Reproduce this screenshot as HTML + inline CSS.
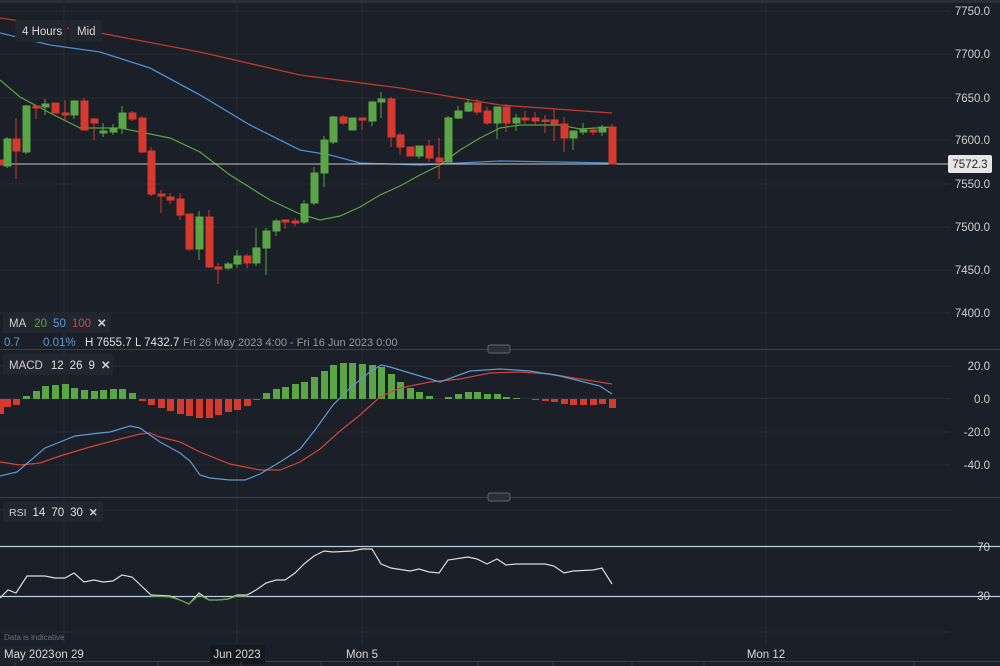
<!DOCTYPE html>
<html><head><meta charset="utf-8"><style>
html,body{margin:0;padding:0;background:#1b1f27;}
svg{display:block;font-family:"Liberation Sans",sans-serif;}
</style></head><body>
<svg width="1000" height="666" viewBox="0 0 1000 666" xmlns="http://www.w3.org/2000/svg">
<rect width="1000" height="666" fill="#1b1f27"/>
<rect x="0" y="0" width="1000" height="3" fill="#2a2f38"/>
<!-- grid -->
<g stroke="#272c35" stroke-width="1">
<line x1="0" y1="11" x2="950" y2="11"/><line x1="0" y1="54" x2="950" y2="54"/><line x1="0" y1="98" x2="950" y2="98"/><line x1="0" y1="140" x2="950" y2="140"/><line x1="0" y1="184" x2="950" y2="184"/><line x1="0" y1="227" x2="950" y2="227"/><line x1="0" y1="270" x2="950" y2="270"/><line x1="0" y1="313" x2="950" y2="313"/>
<line x1="0" y1="366" x2="950" y2="366"/><line x1="0" y1="398.5" x2="950" y2="398.5"/><line x1="0" y1="432" x2="950" y2="432"/><line x1="0" y1="465" x2="950" y2="465"/>
<line x1="0" y1="510" x2="950" y2="510"/><line x1="0" y1="632" x2="950" y2="632"/>
<line x1="64" y1="0" x2="64" y2="645"/><line x1="237" y1="0" x2="237" y2="645"/><line x1="362" y1="0" x2="362" y2="645"/><line x1="766" y1="0" x2="766" y2="645"/>
</g>
<g stroke="#3a3f48" stroke-width="1">
<line x1="0" y1="349.5" x2="1000" y2="349.5"/><line x1="0" y1="497.5" x2="1000" y2="497.5"/><line x1="0" y1="661.5" x2="1000" y2="661.5"/>
</g>
<rect x="488" y="345" width="22" height="8" rx="2" fill="#2a2f38" stroke="#666" stroke-width="1"/>
<rect x="488" y="493" width="22" height="8" rx="2" fill="#2a2f38" stroke="#666" stroke-width="1"/>
<!-- MAs -->
<polyline fill="none" stroke="#c0392b" stroke-width="1.3" points="0,18 100,33 200,52 300,75 400,88 500,105 612,113"/>
<polyline fill="none" stroke="#4a8fd6" stroke-width="1.3" points="0,33 50,45 100,52 150,68 200,95 250,125 300,150 330,155 360,163 420,165 500,161 612,163"/>
<polyline fill="none" stroke="#5aa545" stroke-width="1.2" points="0,80 20,97 50,113 80,128 120,128 170,138 200,152 230,175 270,200 300,214 320,220 340,216 360,207 380,195 400,186 420,175 440,165 460,150 480,138 500,128 520,125 560,125 580,129 612,127"/>
<line x1="0" y1="164" x2="950" y2="164" stroke="#c8c8c8" stroke-width="1"/>
<!-- candles -->
<g stroke-width="1">
<g stroke="#d63a2e" fill="#d63a2e">
<rect x="-3" y="160" width="6" height="5"/>
<line x1="16" y1="118" x2="16" y2="179"/><rect x="13" y="139" width="7" height="12"/>
<line x1="36" y1="106" x2="36" y2="119"/><rect x="33" y="106" width="7" height="2"/>
<rect x="52" y="103" width="7" height="10"/>
<line x1="65" y1="100" x2="65" y2="121"/><rect x="62" y="113" width="7" height="2"/>
<line x1="84" y1="98" x2="84" y2="130"/><rect x="81" y="101" width="7" height="29"/>
<line x1="94" y1="118" x2="94" y2="140"/><rect x="91" y="119" width="7" height="4"/>
<line x1="132" y1="111" x2="132" y2="121"/><rect x="129" y="113" width="7" height="6"/>
<line x1="142" y1="116" x2="142" y2="153"/><rect x="139" y="118" width="7" height="34"/>
<line x1="151" y1="147" x2="151" y2="196"/><rect x="148" y="151" width="7" height="43"/>
<line x1="161" y1="190" x2="161" y2="213"/><rect x="158" y="194" width="7" height="2"/>
<line x1="170" y1="193" x2="170" y2="204"/><rect x="167" y="197" width="7" height="3"/>
<line x1="180" y1="193" x2="180" y2="220"/><rect x="177" y="199" width="7" height="16"/>
<line x1="189" y1="214" x2="189" y2="251"/><rect x="186" y="214" width="7" height="35"/>
<line x1="209" y1="210" x2="209" y2="268"/><rect x="206" y="217" width="7" height="50"/>
<line x1="218" y1="263" x2="218" y2="284"/><rect x="215" y="267" width="7" height="2"/>
<line x1="247" y1="254" x2="247" y2="268"/><rect x="244" y="256" width="7" height="7"/>
<line x1="285" y1="219" x2="285" y2="229"/><rect x="282" y="220" width="7" height="2"/>
<line x1="295" y1="218" x2="295" y2="226"/><rect x="292" y="221" width="7" height="2"/>
<line x1="343" y1="115" x2="343" y2="125"/><rect x="340" y="117" width="7" height="6"/>
<line x1="362" y1="118" x2="362" y2="130"/><rect x="359" y="118" width="7" height="2"/>
<line x1="391" y1="97" x2="391" y2="147"/><rect x="388" y="99" width="7" height="38"/>
<line x1="400" y1="133" x2="400" y2="155"/><rect x="397" y="135" width="7" height="12"/>
<rect x="407" y="147" width="7" height="9"/>
<line x1="429" y1="140" x2="429" y2="162"/><rect x="426" y="146" width="7" height="12"/>
<line x1="439" y1="138" x2="439" y2="179"/><rect x="436" y="158" width="7" height="4"/>
<line x1="477" y1="99" x2="477" y2="115"/><rect x="474" y="103" width="7" height="9"/>
<line x1="487" y1="107" x2="487" y2="125"/><rect x="484" y="111" width="7" height="12"/>
<line x1="506" y1="104" x2="506" y2="132"/><rect x="503" y="107" width="7" height="16"/>
<line x1="525" y1="111" x2="525" y2="124"/><rect x="522" y="118" width="7" height="2"/>
<line x1="535" y1="112" x2="535" y2="126"/><rect x="532" y="118" width="7" height="3"/>
<line x1="545" y1="115" x2="545" y2="133"/><rect x="542" y="120" width="7" height="1.5"/>
<line x1="554" y1="108" x2="554" y2="141"/><rect x="551" y="120" width="7" height="4"/>
<line x1="564" y1="117" x2="564" y2="152"/><rect x="561" y="124" width="7" height="14"/>
<line x1="593" y1="127" x2="593" y2="135"/><rect x="590" y="130" width="7" height="2"/>
<line x1="612" y1="124" x2="612" y2="164"/><rect x="609" y="127" width="7" height="37"/>
</g>
<g stroke="#5aa545" fill="#5aa545">
<line x1="7" y1="137" x2="7" y2="168"/><rect x="4" y="139" width="7" height="27"/>
<line x1="26" y1="105" x2="26" y2="154"/><rect x="23" y="106" width="7" height="46"/>
<line x1="45" y1="99" x2="45" y2="115"/><rect x="42" y="104" width="7" height="3"/>
<line x1="74" y1="100" x2="74" y2="119"/><rect x="71" y="101" width="7" height="14"/>
<line x1="103" y1="123" x2="103" y2="137"/><rect x="100" y="131" width="7" height="2"/>
<line x1="113" y1="124" x2="113" y2="135"/><rect x="110" y="128" width="7" height="4"/>
<line x1="122" y1="106" x2="122" y2="134"/><rect x="119" y="113" width="7" height="15"/>
<line x1="199" y1="211" x2="199" y2="260"/><rect x="196" y="217" width="7" height="32"/>
<line x1="228" y1="262" x2="228" y2="270"/><rect x="225" y="264" width="7" height="4"/>
<line x1="237" y1="250" x2="237" y2="268"/><rect x="234" y="256" width="7" height="8"/>
<line x1="256" y1="228" x2="256" y2="266"/><rect x="253" y="248" width="7" height="15"/>
<line x1="266" y1="228" x2="266" y2="275"/><rect x="263" y="231" width="7" height="17"/>
<line x1="276" y1="219" x2="276" y2="236"/><rect x="273" y="221" width="7" height="10"/>
<line x1="304" y1="200" x2="304" y2="224"/><rect x="301" y="204" width="7" height="18"/>
<line x1="314" y1="167" x2="314" y2="205"/><rect x="311" y="173" width="7" height="30"/>
<line x1="324" y1="136" x2="324" y2="187"/><rect x="321" y="140" width="7" height="33"/>
<line x1="333" y1="116" x2="333" y2="144"/><rect x="330" y="117" width="7" height="25"/>
<rect x="349" y="118" width="7" height="12"/>
<line x1="372" y1="101" x2="372" y2="126"/><rect x="369" y="102" width="7" height="19"/>
<line x1="381" y1="92" x2="381" y2="118"/><rect x="378" y="99" width="7" height="3"/>
<line x1="419" y1="146" x2="419" y2="159"/><rect x="416" y="146" width="7" height="10"/>
<line x1="448" y1="116" x2="448" y2="164"/><rect x="445" y="118" width="7" height="44"/>
<line x1="458" y1="106" x2="458" y2="119"/><rect x="455" y="111" width="7" height="7"/>
<line x1="468" y1="99" x2="468" y2="112"/><rect x="465" y="103" width="7" height="8"/>
<line x1="497" y1="107" x2="497" y2="139"/><rect x="494" y="107" width="7" height="16"/>
<line x1="516" y1="114" x2="516" y2="131"/><rect x="513" y="118" width="7" height="5"/>
<line x1="573" y1="131" x2="573" y2="150"/><rect x="570" y="131" width="7" height="7"/>
<line x1="583" y1="123" x2="583" y2="135"/><rect x="580" y="130" width="7" height="2"/>
<line x1="602" y1="125" x2="602" y2="136"/><rect x="599" y="127" width="7" height="5"/>
</g>
</g>
<!-- MACD histogram -->
<g fill="#d63a2e">
<rect x="-3" y="399" width="7" height="15"/><rect x="4" y="399" width="7" height="8"/><rect x="13" y="399" width="7" height="6"/>
<rect x="139" y="399" width="7" height="2"/><rect x="148" y="399" width="7" height="6"/><rect x="158" y="399" width="7" height="9"/><rect x="167" y="399" width="7" height="12"/><rect x="177" y="399" width="7" height="15"/><rect x="186" y="399" width="7" height="17"/><rect x="196" y="399" width="7" height="19"/><rect x="206" y="399" width="7" height="19"/><rect x="215" y="399" width="7" height="16"/><rect x="225" y="399" width="7" height="13"/><rect x="234" y="399" width="7" height="11"/><rect x="244" y="399" width="7" height="7"/><rect x="253" y="399" width="7" height="1"/>
<rect x="532" y="399" width="7" height="1"/><rect x="542" y="399" width="7" height="2"/><rect x="551" y="399" width="7" height="3"/><rect x="561" y="399" width="7" height="5"/><rect x="570" y="399" width="7" height="6"/><rect x="580" y="399" width="7" height="6"/><rect x="590" y="399" width="7" height="6"/><rect x="599" y="399" width="7" height="5"/><rect x="609" y="399" width="7" height="9"/>
</g>
<g fill="#5aa545">
<rect x="23" y="396" width="7" height="3"/><rect x="33" y="391" width="7" height="8"/><rect x="42" y="386" width="7" height="13"/><rect x="52" y="385" width="7" height="14"/><rect x="62" y="384" width="7" height="15"/><rect x="71" y="388" width="7" height="11"/><rect x="81" y="390" width="7" height="9"/><rect x="91" y="391" width="7" height="8"/><rect x="100" y="390" width="7" height="9"/><rect x="110" y="389" width="7" height="10"/><rect x="119" y="389" width="7" height="10"/><rect x="129" y="393" width="7" height="6"/>
<rect x="263" y="393" width="7" height="6"/><rect x="273" y="389" width="7" height="10"/><rect x="282" y="387" width="7" height="12"/><rect x="292" y="384" width="7" height="15"/><rect x="301" y="382" width="7" height="17"/><rect x="311" y="377" width="7" height="22"/><rect x="321" y="371" width="7" height="28"/><rect x="330" y="365" width="7" height="34"/><rect x="340" y="363" width="7" height="36"/><rect x="349" y="363" width="7" height="36"/><rect x="359" y="364" width="7" height="35"/><rect x="369" y="365" width="7" height="34"/><rect x="378" y="367" width="7" height="32"/><rect x="388" y="374" width="7" height="25"/><rect x="397" y="382" width="7" height="17"/><rect x="407" y="388" width="7" height="11"/><rect x="416" y="392" width="7" height="7"/><rect x="426" y="396" width="7" height="3"/>
<rect x="445" y="397" width="7" height="2"/><rect x="455" y="394" width="7" height="5"/><rect x="465" y="392" width="7" height="7"/><rect x="474" y="392" width="7" height="7"/><rect x="484" y="394" width="7" height="5"/><rect x="494" y="394" width="7" height="5"/><rect x="503" y="397" width="7" height="2"/><rect x="513" y="398" width="7" height="1"/>
</g>
<polyline fill="none" stroke="#d0453a" stroke-width="1.2" points="0,462 20,465 40,463 60,456 90,447 120,439 140,434 150,433 160,437 180,442 200,452 230,464 260,470 280,470 300,462 320,449 340,431 360,415 380,397 400,388 430,382 460,379 490,373 520,372 550,374 580,379 612,384"/>
<polyline fill="none" stroke="#5b9bd5" stroke-width="1.2" points="0,476 17,472 45,448 65,440 75,436 100,433 110,432 130,426 140,428 160,442 180,453 190,461 200,475 210,478 230,480 245,480 260,474 280,462 300,449 315,430 333,405 350,388 370,372 381,365 390,367 410,373 440,382 470,371 500,369 530,371 560,376 580,381 600,386 612,394"/>
<!-- RSI -->
<line x1="0" y1="546.5" x2="1000" y2="546.5" stroke="#b8cde0" stroke-width="1.2"/>
<line x1="0" y1="596.5" x2="1000" y2="596.5" stroke="#b8cde0" stroke-width="1.2"/>
<polyline fill="none" stroke="#dcdcdc" stroke-width="1.2" points="0,598 8,590 16,593 27,576 45,576 55,578 65,578 74,573 84,582 94,580 103,582 113,581 122,575 132,577 151,595 170,596 180,600 189,604 199,593 209,600 218,600 228,599 237,595 247,595 256,590 266,583 276,580 285,580 295,573 304,564 314,556 324,551 333,552 352,551 362,549 372,549 381,564 391,568 410,571 419,569 429,572 439,573 448,560 468,557 477,559 487,564 497,559 506,565 516,564 535,564 545,564 554,566 564,573 573,571 593,570 602,568 612,584"/>
<polyline fill="none" stroke="#5aa545" stroke-width="1.3" points="151,596 170,597 180,600 189,604 199,595 209,600 218,600 228,599 237,596 247,596"/>
<!-- axis labels -->
<g fill="#cfcfcf" font-size="11.5" text-anchor="end">
<text x="990" y="15">7750.0</text><text x="990" y="58">7700.0</text><text x="990" y="102">7650.0</text><text x="990" y="144">7600.0</text><text x="990" y="188">7550.0</text><text x="990" y="231">7500.0</text><text x="990" y="274">7450.0</text><text x="990" y="317">7400.0</text>
<text x="990" y="370">20.0</text><text x="990" y="403">0.0</text><text x="990" y="436">-20.0</text><text x="990" y="469">-40.0</text>
<text x="990" y="551">70</text><text x="990" y="600">30</text>
</g>
<rect x="948" y="155" width="44" height="18" rx="2" fill="#e6e6e6"/>
<text x="970" y="168" font-size="11.5" fill="#222" text-anchor="middle">7572.3</text>
<!-- top left buttons -->
<rect x="15" y="20" width="52" height="22" rx="2" fill="#22262e"/>
<rect x="69" y="20" width="33" height="22" rx="2" fill="#22262e"/>
<text x="22" y="35" font-size="11.5" fill="#d8d8d8">4 Hours</text>
<text x="77" y="35" font-size="11.5" fill="#d8d8d8">Mid</text>
<!-- legends -->
<rect x="3" y="312" width="108" height="21" rx="2" fill="#22262e"/>
<text x="9" y="327" font-size="11.5"><tspan fill="#cfcfcf">MA</tspan><tspan fill="#5aa545" dx="8">20</tspan><tspan fill="#5b9bd5" dx="6">50</tspan><tspan fill="#d0453a" dx="6">100</tspan><tspan fill="#cfcfcf" dx="6" font-weight="bold">✕</tspan></text>
<text y="346" font-size="11.5"><tspan x="4" fill="#5b9bd5">0.7</tspan><tspan x="43" fill="#5b9bd5">0.01%</tspan><tspan x="85" fill="#e0e0e0">H 7655.7</tspan><tspan x="135" fill="#e0e0e0">L 7432.7</tspan><tspan x="183" fill="#9a9a9a" font-size="11">Fri 26 May 2023 4:00 - Fri 16 Jun 2023 0:00</tspan></text>
<rect x="3" y="354" width="110" height="21" rx="2" fill="#22262e"/>
<text x="9" y="369" font-size="11.5" fill="#cfcfcf">MACD<tspan dx="8" fill="#e0e0e0">12</tspan><tspan dx="6" fill="#e0e0e0">26</tspan><tspan dx="6" fill="#e0e0e0">9</tspan><tspan dx="6" font-weight="bold">✕</tspan></text>
<rect x="3" y="502" width="100" height="20" rx="2" fill="#22262e"/>
<text x="9" y="516" font-size="10.5" fill="#cfcfcf">RSI<tspan dx="6" font-size="11.5" fill="#e0e0e0">14</tspan><tspan dx="6" font-size="11.5" fill="#e0e0e0">70</tspan><tspan dx="6" font-size="11.5" fill="#e0e0e0">30</tspan><tspan dx="6" font-weight="bold">✕</tspan></text>
<text x="4" y="640" font-size="8" fill="#6a6f78">Data is indicative</text>
<!-- time axis -->
<text x="55" y="658" font-size="11.5" fill="#d8d8d8">on 29</text>
<rect x="0" y="646" width="53" height="18" fill="#1f232b"/>
<text x="4" y="658" font-size="11.5" fill="#d8d8d8">May 2023</text>
<rect x="210" y="645" width="55" height="19" fill="#15181e"/>
<text x="237" y="658" font-size="11.5" fill="#d8d8d8" text-anchor="middle">Jun 2023</text>
<text x="362" y="658" font-size="11.5" fill="#d8d8d8" text-anchor="middle">Mon 5</text>
<text x="766" y="658" font-size="11.5" fill="#d8d8d8" text-anchor="middle">Mon 12</text>
<g stroke="#3a3f48"><line x1="15" y1="662" x2="15" y2="666"/><line x1="158" y1="662" x2="158" y2="666"/><line x1="241" y1="662" x2="241" y2="666"/><line x1="321" y1="662" x2="321" y2="666"/><line x1="398" y1="662" x2="398" y2="666"/><line x1="478" y1="662" x2="478" y2="666"/><line x1="553" y1="662" x2="553" y2="666"/><line x1="632" y1="662" x2="632" y2="666"/><line x1="704" y1="662" x2="704" y2="666"/><line x1="914" y1="662" x2="914" y2="666"/></g>
</svg>
</body></html>
